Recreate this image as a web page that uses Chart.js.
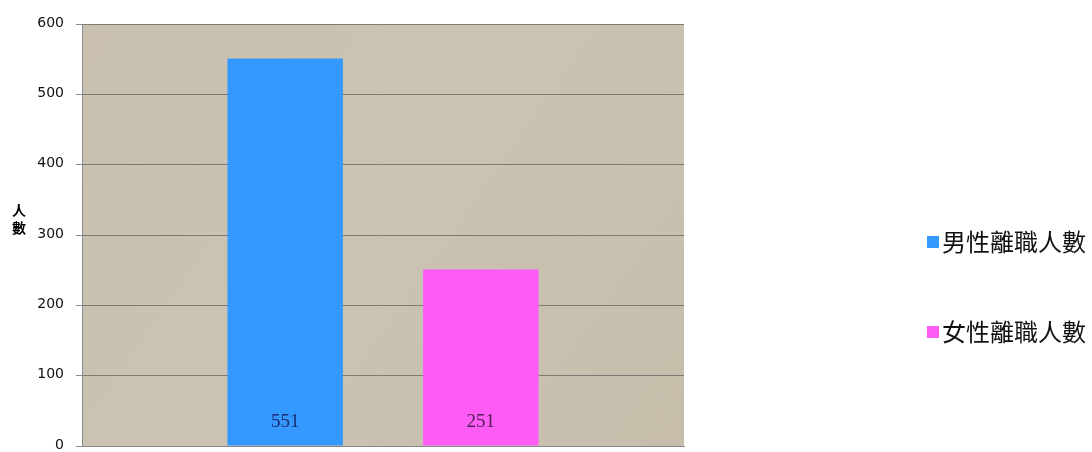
<!DOCTYPE html>
<html>
<head>
<meta charset="utf-8">
<script src="https://cdn.jsdelivr.net/npm/chart.js@4/dist/chart.umd.min.js"></script>
<style>
    html, body { margin: 0; padding: 0; background: #fff; }
    #wrap { width: 1092px; height: 452px; position: relative; }
</style>
</head>
<body>
<div id="wrap"><canvas id="chart"></canvas></div>
<script>
    // data
    var categories = [''];
    var seriesNames = ['男性離職人數', '女性離職人數'];
    var maleLeavers = [551];
    var femaleLeavers = [251];
    var yTicks = [0, 100, 200, 300, 400, 500, 600];
    var axisTitle = ['人', '數'];

    var seriesColors = ['#3399ff', '#ff5cf5'];
    var labelColors = ['#1c2a6e', '#4a1f55'];

    // beige plot background
    var plotBackground = {
        id: 'plotBackground',
        beforeDraw: function (chart) {
            var ctx = chart.ctx;
            var a = chart.chartArea;
            var g = ctx.createLinearGradient(a.left, a.top, a.right, a.bottom);
            g.addColorStop(0, '#c9c0af');
            g.addColorStop(0.5, '#cbc3b2');
            g.addColorStop(1, '#c6bdab');
            ctx.save();
            ctx.fillStyle = g;
            ctx.fillRect(a.left, a.top, a.right - a.left, a.bottom - a.top);
            ctx.restore();
        }
    };

    // value labels at the foot of each bar, axis title, legend on the right
    var extras = {
        id: 'extras',
        afterDatasetsDraw: function (chart) {
            var ctx = chart.ctx;
            ctx.save();
            ctx.font = '19px "Liberation Serif", serif';
            ctx.textAlign = 'center';
            ctx.textBaseline = 'middle';
            chart.data.datasets.forEach(function (ds, i) {
                var meta = chart.getDatasetMeta(i);
                meta.data.forEach(function (bar, j) {
                    ctx.fillStyle = labelColors[i];
                    ctx.fillText(String(ds.data[j]), bar.x, chart.chartArea.bottom - 24);
                });
            });
            ctx.restore();
        },
        afterDraw: function (chart) {
            var ctx = chart.ctx;
            ctx.save();
            ctx.fillStyle = '#000';
            ctx.font = 'bold 14px "Noto Sans CJK TC", sans-serif';
            ctx.textAlign = 'center';
            ctx.textBaseline = 'middle';
            ctx.fillText(axisTitle[0], 19, 210);
            ctx.fillText(axisTitle[1], 19, 228);

            ctx.font = '24px "Noto Sans CJK TC", sans-serif';
            ctx.textAlign = 'left';
            chart.data.datasets.forEach(function (ds, i) {
                var y = 242 + i * 90;
                ctx.fillStyle = ds.backgroundColor;
                ctx.fillRect(927, y - 6, 12, 12);
                ctx.fillStyle = '#111';
                ctx.fillText(ds.label, 942, y);
            });
            ctx.restore();
        }
    };

    new Chart(document.getElementById('chart'), {
        type: 'bar',
        data: {
            labels: categories,
            datasets: [
                { label: seriesNames[0], data: maleLeavers, backgroundColor: seriesColors[0] },
                { label: seriesNames[1], data: femaleLeavers, backgroundColor: seriesColors[1] }
            ]
        },
        options: {
            responsive: true,
            maintainAspectRatio: false,
            animation: false,
            categoryPercentage: 0.65,
            barPercentage: 0.59,
            layout: { padding: { top: 24, right: 408, bottom: 6, left: 0 } },
            plugins: {
                legend: { display: false },
                tooltip: { enabled: false }
            },
            scales: {
                x: {
                    offset: true,
                    ticks: { display: false },
                    grid: { display: false },
                    border: { display: true, color: '#8a8a8a', width: 1 },
                    afterFit: function (scale) { scale.height = 0; }
                },
                y: {
                    min: 0,
                    max: 600,
                    afterBuildTicks: function (scale) {
                        scale.ticks = yTicks.map(function (v) { return { value: v }; });
                    },
                    ticks: {
                        color: '#111',
                        font: { family: '"DejaVu Sans", sans-serif', size: 14 },
                        padding: 12,
                        labelOffset: -1
                    },
                    grid: {
                        color: '#7d7b76',
                        tickColor: '#8a8a8a',
                        tickLength: 6,
                        lineWidth: 1
                    },
                    border: { display: true, color: '#8a8a8a', width: 1 },
                    afterFit: function (scale) {
                        scale.width = 82;
                        scale.paddingTop = 0;
                        scale.paddingBottom = 0;
                    }
                }
            }
        },
        plugins: [plotBackground, extras]
    });
</script>
</body>
</html>
